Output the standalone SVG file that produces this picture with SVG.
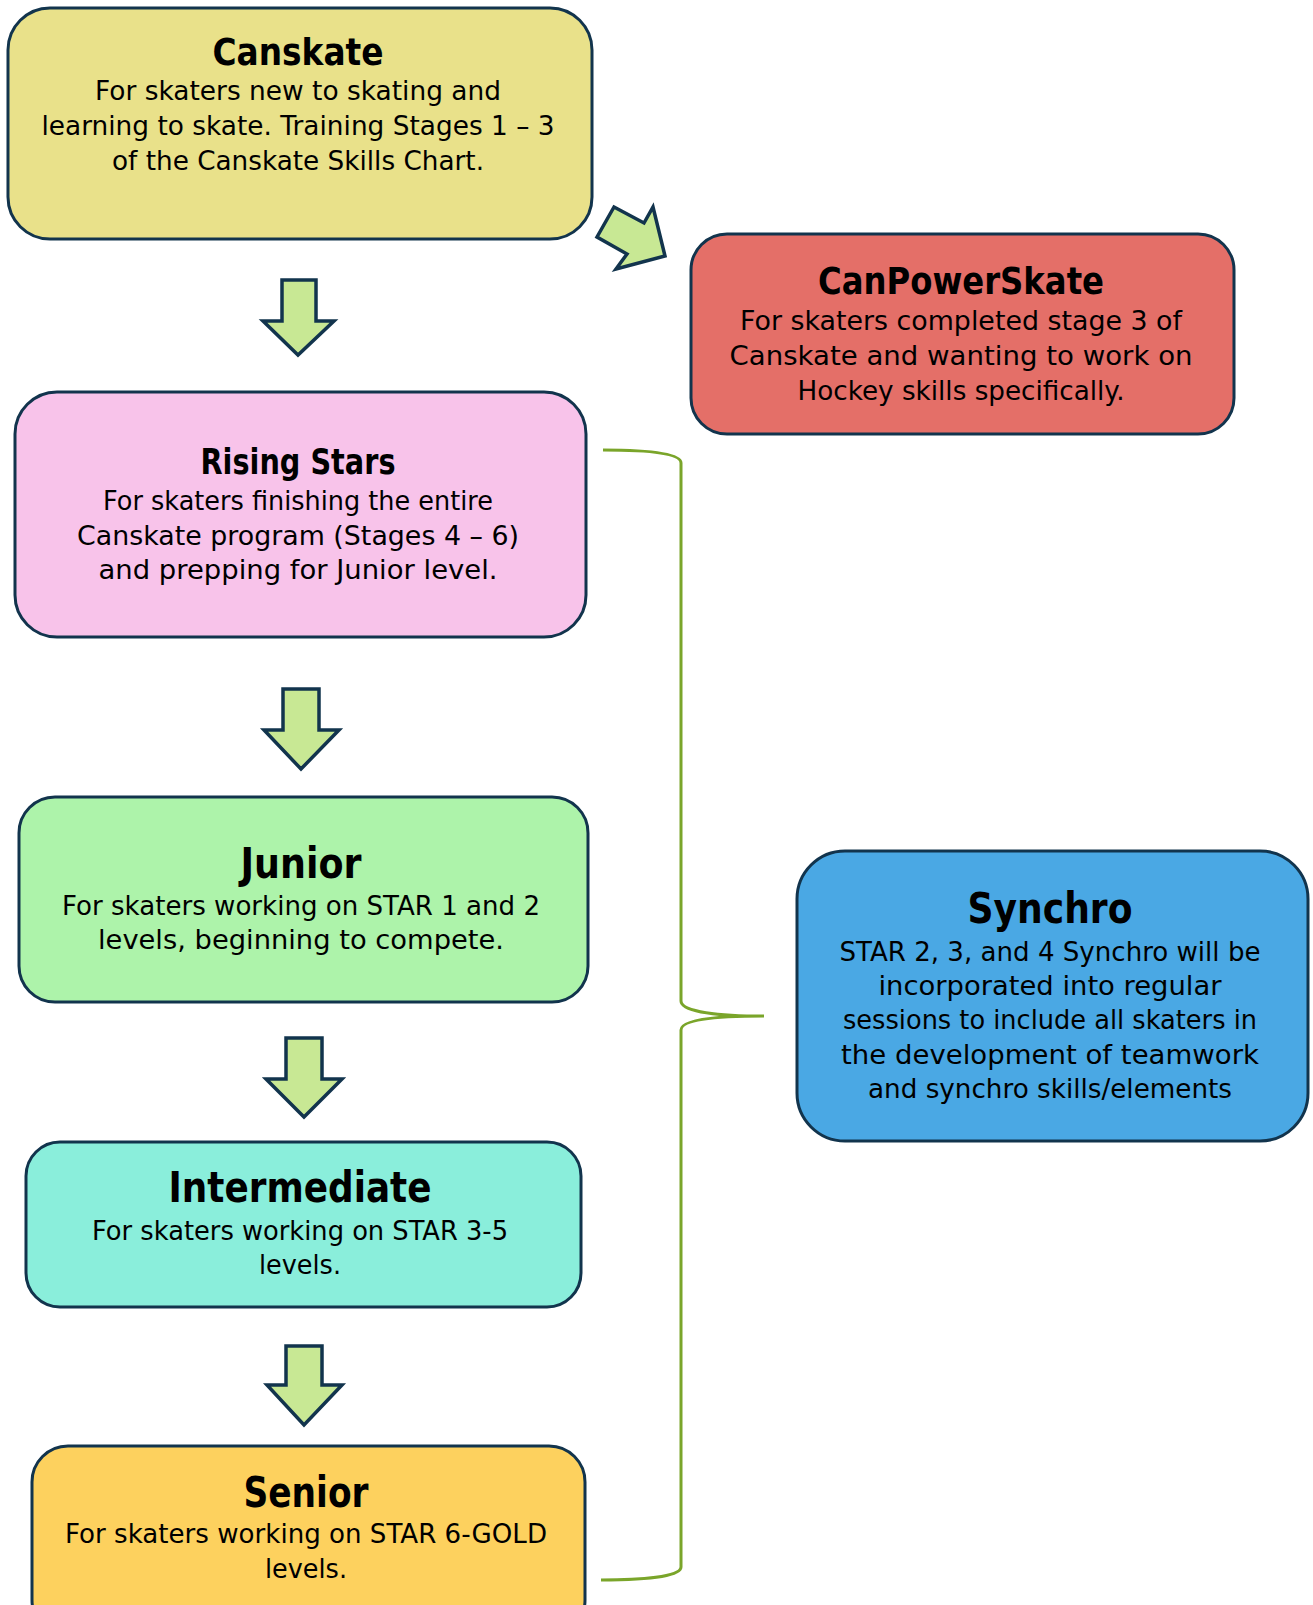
<svg xmlns="http://www.w3.org/2000/svg" width="1313" height="1605" viewBox="0 0 1313 1605">
<style>
.box{stroke:#12344d;stroke-width:3}
.arr{fill:#c8e894;stroke:#12344d;stroke-width:3.5;stroke-linejoin:miter}
.t{font-family:"DejaVu Sans","Liberation Sans",sans-serif;font-weight:bold;fill:#000;text-anchor:middle}
.b{font-family:"DejaVu Sans","Liberation Sans",sans-serif;font-size:26px;fill:#000;text-anchor:middle}
.br{fill:none;stroke:#7aa52a;stroke-width:3}
</style>
<rect width="1313" height="1605" fill="#fff"/>
<g id="connectors">
<polygon class="arr" points="282,280 316,280 316,321 334,321 298,355 263,321 282,321"/>
<polygon class="arr" points="283,689 319,689 319,730 339,730 301,769 264,730 283,730"/>
<polygon class="arr" points="286,1038 322,1038 322,1079 342,1079 304,1117 266,1079 286,1079"/>
<polygon class="arr" points="286,1346 322,1346 322,1385 342,1385 304,1425 267,1385 286,1385"/>
<polygon class="arr" points="614,207 644,223 653,207 665,256 616,269 627,254 597,237"/>
<path class="br" d="M603,450 C640,450 681,452 681,463 L681,1001 C681,1012 720,1016 764,1016 C720,1016 681,1019 681,1030 L681,1567 C681,1577 640,1580 601,1580"/>
</g>
<g id="canskate">
<rect class="box" x="8" y="8" width="584" height="231" rx="42" fill="#e9e18a"/>
<text class="t" x="298" y="65" font-size="38" textLength="171" lengthAdjust="spacingAndGlyphs">Canskate</text>
<text class="b" x="298" y="100" textLength="406" lengthAdjust="spacingAndGlyphs">For skaters new to skating and</text>
<text class="b" x="298" y="135" textLength="513" lengthAdjust="spacingAndGlyphs">learning to skate. Training Stages 1 – 3</text>
<text class="b" x="298" y="170" textLength="372" lengthAdjust="spacingAndGlyphs">of the Canskate Skills Chart.</text>
</g>
<g id="canpowerskate">
<rect class="box" x="691" y="234" width="543" height="200" rx="36" fill="#e46f68"/>
<text class="t" x="961" y="294" font-size="38" textLength="286" lengthAdjust="spacingAndGlyphs">CanPowerSkate</text>
<text class="b" x="961" y="330" textLength="442" lengthAdjust="spacingAndGlyphs">For skaters completed stage 3 of</text>
<text class="b" x="961" y="365" textLength="463" lengthAdjust="spacingAndGlyphs">Canskate and wanting to work on</text>
<text class="b" x="961" y="400" textLength="327" lengthAdjust="spacingAndGlyphs">Hockey skills specifically.</text>
</g>
<g id="rising-stars">
<rect class="box" x="15" y="392" width="571" height="245" rx="42" fill="#f8c3ea"/>
<text class="t" x="298" y="474" font-size="36" textLength="195" lengthAdjust="spacingAndGlyphs">Rising Stars</text>
<text class="b" x="298" y="510" textLength="390" lengthAdjust="spacingAndGlyphs">For skaters finishing the entire</text>
<text class="b" x="298" y="545" textLength="442" lengthAdjust="spacingAndGlyphs">Canskate program (Stages 4 – 6)</text>
<text class="b" x="298" y="579" textLength="399" lengthAdjust="spacingAndGlyphs">and prepping for Junior level.</text>
</g>
<g id="junior">
<rect class="box" x="19" y="797" width="569" height="205" rx="36" fill="#adf3aa"/>
<text class="t" x="301" y="878" font-size="42" textLength="121" lengthAdjust="spacingAndGlyphs">Junior</text>
<text class="b" x="301" y="915" textLength="478" lengthAdjust="spacingAndGlyphs">For skaters working on STAR 1 and 2</text>
<text class="b" x="301" y="949" textLength="406" lengthAdjust="spacingAndGlyphs">levels, beginning to compete.</text>
</g>
<g id="intermediate">
<rect class="box" x="26" y="1142" width="555" height="165" rx="34" fill="#8aeedb"/>
<text class="t" x="300" y="1202" font-size="42" textLength="263" lengthAdjust="spacingAndGlyphs">Intermediate</text>
<text class="b" x="300" y="1240" textLength="416" lengthAdjust="spacingAndGlyphs">For skaters working on STAR 3-5</text>
<text class="b" x="300" y="1274" textLength="82" lengthAdjust="spacingAndGlyphs">levels.</text>
</g>
<g id="senior">
<rect class="box" x="32" y="1446" width="553" height="190" rx="36" fill="#fdd15e"/>
<text class="t" x="306" y="1507" font-size="42" textLength="125" lengthAdjust="spacingAndGlyphs">Senior</text>
<text class="b" x="306" y="1543" textLength="482" lengthAdjust="spacingAndGlyphs">For skaters working on STAR 6-GOLD</text>
<text class="b" x="306" y="1578" textLength="82" lengthAdjust="spacingAndGlyphs">levels.</text>
</g>
<g id="synchro">
<rect class="box" x="797" y="851" width="511" height="290" rx="48" fill="#4aa8e4"/>
<text class="t" x="1050" y="923" font-size="42" textLength="165" lengthAdjust="spacingAndGlyphs">Synchro</text>
<text class="b" x="1050" y="961" textLength="421" lengthAdjust="spacingAndGlyphs">STAR 2, 3, and 4 Synchro will be</text>
<text class="b" x="1050" y="995" textLength="343" lengthAdjust="spacingAndGlyphs">incorporated into regular</text>
<text class="b" x="1050" y="1029" textLength="414" lengthAdjust="spacingAndGlyphs">sessions to include all skaters in</text>
<text class="b" x="1050" y="1064" textLength="418" lengthAdjust="spacingAndGlyphs">the development of teamwork</text>
<text class="b" x="1050" y="1098" textLength="364" lengthAdjust="spacingAndGlyphs">and synchro skills/elements</text>
</g>
</svg>
